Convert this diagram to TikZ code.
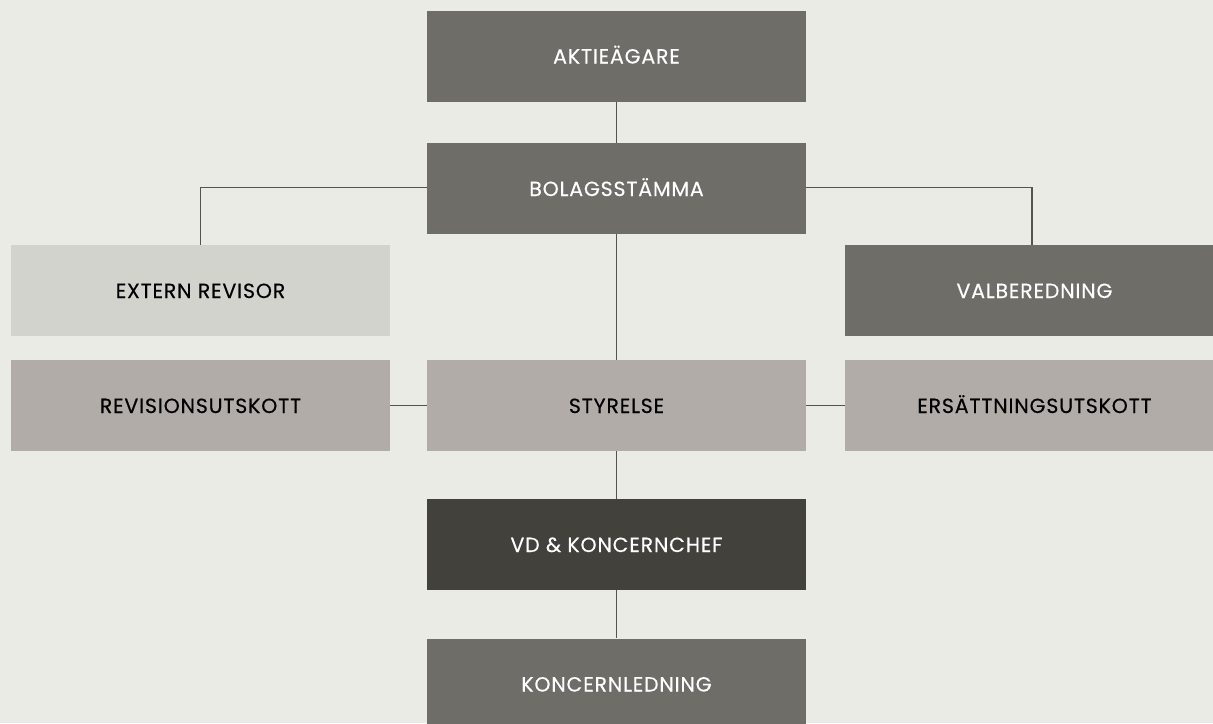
\documentclass[tikz,border=0pt]{standalone}
\usepackage{fontspec}
\setmainfont{Poppins}[LetterSpace=4,FakeBold=0.3]
\definecolor{bgc}{HTML}{EBEBE6}
\definecolor{darkbox}{HTML}{6F6D68}
\definecolor{lightbox}{HTML}{D3D3CD}
\definecolor{midbox}{HTML}{B1ACA8}
\definecolor{deepbox}{HTML}{43413C}
\definecolor{linec}{HTML}{55534F}
\begin{document}
\begin{tikzpicture}[x=1pt,y=-1pt,
  box/.style={rectangle, inner sep=0pt, minimum width=379pt, minimum height=91pt, text height=15pt, text depth=0pt, font=\fontsize{20.5}{22}\selectfont},
  darkb/.style={box, fill=darkbox, text=white},
  lightb/.style={box, fill=lightbox, text=black},
  midb/.style={box, fill=midbox, text=black},
  deepb/.style={box, fill=deepbox, text=white},
  conn/.style={draw=linec, line width=1.1pt}]
\fill[bgc] (0,0) rectangle (1213,723);
\useasboundingbox (0,0) rectangle (1213,723);
\node[darkb] (aktie) at (616.5,56) {AKTIEÄGARE};
\node[darkb] (stamma) at (616.5,188.5) {BOLAGSSTÄMMA};
\node[lightb] (extern) at (200.5,290.5) {EXTERN REVISOR};
\node[darkb] (valb) at (1034.5,290.5) {VALBEREDNING};
\node[midb] (revis) at (200.5,405.5) {REVISIONSUTSKOTT};
\node[midb] (styr) at (616.5,405.5) {STYRELSE};
\node[midb] (ers) at (1034.5,405.5) {ERSÄTTNINGSUTSKOTT};
\node[deepb] (vd) at (616.5,544.5) {VD \& KONCERNCHEF};
\node[darkb] (kl) at (616.5,684) {KONCERNLEDNING};
\draw[conn] (stamma.west |- 0,187.3) -| (extern.north);
\draw[conn] (stamma.east |- 0,187.3) -| ([xshift=-2.5pt]valb.north);
\draw[conn] (aktie.south) -- (stamma.north);
\draw[conn] (stamma.south) -- (styr.north);
\draw[conn] (styr.west) -- (revis.east);
\draw[conn] (styr.east) -- (ers.west);
\draw[conn] (styr.south) -- (vd.north);
\draw[conn] (vd.south) -- (kl.north);
\end{tikzpicture}
\end{document}
